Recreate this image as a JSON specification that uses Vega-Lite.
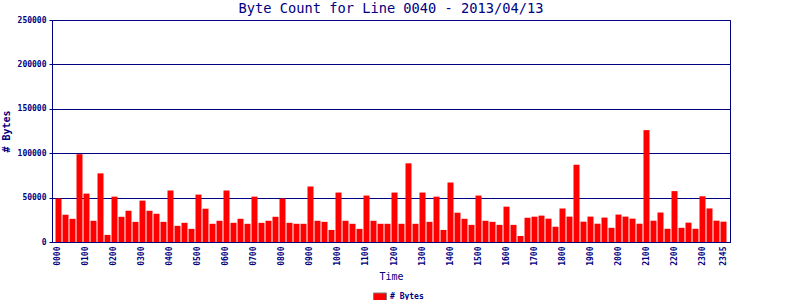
{
  "$schema": "https://vega.github.io/schema/vega-lite/v6.json",
  "width": 678,
  "height": 222,
  "autosize": {"type": "none"},
  "padding": {"left": 52, "top": 20, "right": 70, "bottom": 58},
  "background": "white",
  "title": {
    "text": "Byte Count for Line 0040 - 2013/04/13",
    "font": "DejaVu Sans Mono",
    "fontSize": 13.7,
    "fontWeight": "normal",
    "color": "#000080",
    "baseline": "alphabetic",
    "offset": 3,
    "dy": 14,
    "anchor": "middle"
  },
  "config": {
    "view": {"stroke": "#000080", "strokeWidth": 1},
    "axis": {
      "domainColor": "#000080",
      "gridColor": "#000080",
      "gridOpacity": 1,
      "labelColor": "#000080",
      "titleColor": "#000080",
      "tickColor": "#000080",
      "labelFont": "DejaVu Sans Mono",
      "titleFont": "DejaVu Sans Mono",
      "labelFontSize": 8,
      "labelFontWeight": "bold",
      "titleFontSize": 10,
      "titleFontWeight": "normal"
    }
  },
  "data": {
    "values": [
      {"time": "0000", "bytes": 49000}, {"time": "0015", "bytes": 30700}, {"time": "0030", "bytes": 26100}, {"time": "0045", "bytes": 98900},
      {"time": "0100", "bytes": 54500}, {"time": "0115", "bytes": 23900}, {"time": "0130", "bytes": 77300}, {"time": "0145", "bytes": 8000},
      {"time": "0200", "bytes": 51100}, {"time": "0215", "bytes": 28400}, {"time": "0230", "bytes": 35200}, {"time": "0245", "bytes": 22700},
      {"time": "0300", "bytes": 46600}, {"time": "0315", "bytes": 35200}, {"time": "0330", "bytes": 31800}, {"time": "0345", "bytes": 22700},
      {"time": "0400", "bytes": 58000}, {"time": "0415", "bytes": 18200}, {"time": "0430", "bytes": 21600}, {"time": "0445", "bytes": 14800},
      {"time": "0500", "bytes": 53400}, {"time": "0515", "bytes": 37500}, {"time": "0530", "bytes": 20500}, {"time": "0545", "bytes": 23900},
      {"time": "0600", "bytes": 58000}, {"time": "0615", "bytes": 21600}, {"time": "0630", "bytes": 26100}, {"time": "0645", "bytes": 20500},
      {"time": "0700", "bytes": 51100}, {"time": "0715", "bytes": 21600}, {"time": "0730", "bytes": 23900}, {"time": "0745", "bytes": 28400},
      {"time": "0800", "bytes": 49000}, {"time": "0815", "bytes": 21600}, {"time": "0830", "bytes": 20500}, {"time": "0845", "bytes": 20500},
      {"time": "0900", "bytes": 62500}, {"time": "0915", "bytes": 23900}, {"time": "0930", "bytes": 22700}, {"time": "0945", "bytes": 13600},
      {"time": "1000", "bytes": 55700}, {"time": "1015", "bytes": 23900}, {"time": "1030", "bytes": 20500}, {"time": "1045", "bytes": 14800},
      {"time": "1100", "bytes": 52300}, {"time": "1115", "bytes": 23900}, {"time": "1130", "bytes": 20500}, {"time": "1145", "bytes": 20500},
      {"time": "1200", "bytes": 55700}, {"time": "1215", "bytes": 20500}, {"time": "1230", "bytes": 88600}, {"time": "1245", "bytes": 20500},
      {"time": "1300", "bytes": 55700}, {"time": "1315", "bytes": 22700}, {"time": "1330", "bytes": 51100}, {"time": "1345", "bytes": 13600},
      {"time": "1400", "bytes": 67000}, {"time": "1415", "bytes": 33000}, {"time": "1430", "bytes": 26100}, {"time": "1445", "bytes": 19300},
      {"time": "1500", "bytes": 52300}, {"time": "1515", "bytes": 23900}, {"time": "1530", "bytes": 22700}, {"time": "1545", "bytes": 19300},
      {"time": "1600", "bytes": 39800}, {"time": "1615", "bytes": 19300}, {"time": "1630", "bytes": 6800}, {"time": "1645", "bytes": 27300},
      {"time": "1700", "bytes": 28500}, {"time": "1715", "bytes": 29700}, {"time": "1730", "bytes": 26300}, {"time": "1745", "bytes": 17200},
      {"time": "1800", "bytes": 37800}, {"time": "1815", "bytes": 28600}, {"time": "1830", "bytes": 87000}, {"time": "1845", "bytes": 22900},
      {"time": "1900", "bytes": 28600}, {"time": "1915", "bytes": 20600}, {"time": "1930", "bytes": 27500}, {"time": "1945", "bytes": 16000},
      {"time": "2000", "bytes": 30900}, {"time": "2015", "bytes": 28600}, {"time": "2030", "bytes": 26300}, {"time": "2045", "bytes": 20600},
      {"time": "2100", "bytes": 126000}, {"time": "2115", "bytes": 24000}, {"time": "2130", "bytes": 33200}, {"time": "2145", "bytes": 14900},
      {"time": "2200", "bytes": 57300}, {"time": "2215", "bytes": 16000}, {"time": "2230", "bytes": 21800}, {"time": "2245", "bytes": 14900},
      {"time": "2300", "bytes": 51500}, {"time": "2315", "bytes": 37800}, {"time": "2330", "bytes": 24000}, {"time": "2345", "bytes": 22900}
    ]
  },
  "mark": {"type": "bar"},
  "encoding": {
    "x": {
      "field": "time",
      "type": "ordinal",
      "sort": null,
      "scale": {"paddingInner": 0.143, "paddingOuter": 0.5},
      "axis": {
        "title": "Time",
        "labelAngle": 270,
        "ticks": false,
        "tickSize": 0,
        "labelPadding": 4,
        "titlePadding": 6,
        "grid": false,
        "labelExpr": "(substring(datum.value, 2, 4) == '00' || datum.value == '2345') ? datum.value : ''"
      }
    },
    "y": {
      "field": "bytes",
      "type": "quantitative",
      "scale": {"domain": [0, 250000], "nice": false},
      "axis": {
        "title": "# Bytes",
        "values": [0, 50000, 100000, 150000, 200000, 250000],
        "format": "d",
        "ticks": true,
        "tickSize": 3,
        "labelPadding": 3,
        "titlePadding": 6,
        "titleFontWeight": "bold",
        "grid": true
      }
    },
    "color": {
      "datum": "# Bytes",
      "scale": {"range": ["#ff0000"]},
      "legend": {
        "title": null,
        "orient": "none",
        "legendX": 321,
        "legendY": 270,
        "padding": 0,
        "symbolType": "M-1,-0.62L1,-0.62L1,0.62L-1,0.62Z",
        "symbolSize": 169,
        "symbolStrokeColor": "#808080",
        "symbolStrokeWidth": 1,
        "symbolOpacity": 1,
        "labelFont": "DejaVu Sans Mono",
        "labelFontSize": 8,
        "labelFontWeight": "bold",
        "labelColor": "#000080",
        "labelOffset": 3
      }
    }
  }
}
